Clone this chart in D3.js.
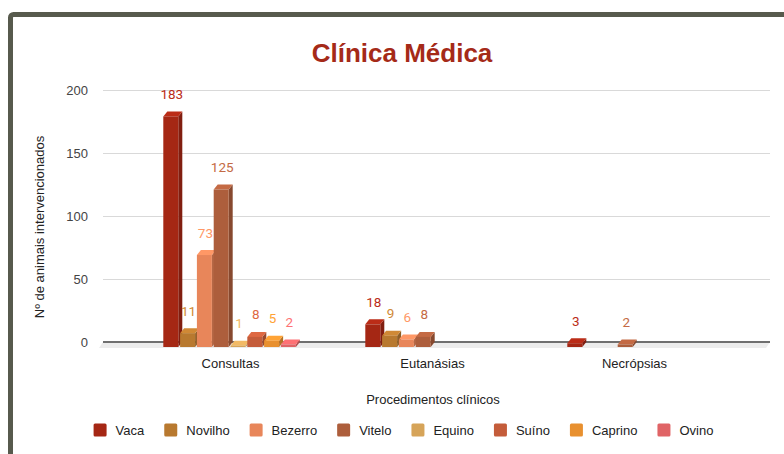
<!DOCTYPE html>
<html>
<head>
<meta charset="utf-8">
<script src="https://cdn.jsdelivr.net/npm/d3@7"></script>
<style>
  html, body { margin: 0; padding: 0; background: #fff; }
  svg { display: block; }
</style>
</head>
<body>
<svg id="chart" width="784" height="454"></svg>
<script>
// Procedures and animal groups
const categories = ["Consultas", "Eutanásias", "Necrópsias"];
const seriesNames = ["Vaca", "Novilho", "Bezerro", "Vitelo", "Equino", "Suíno", "Caprino", "Ovino"];
const seriesColors = ["#a52714", "#b8792f", "#e8865a", "#ad5e3c", "#d6a459", "#c45c3a", "#e8902f", "#e06466"];
// counts per series, one entry per category
const vaca    = [183, 18, 3];
const novilho = [11, 9, 0];
const bezerro = [73, 6, 0];
const vitelo  = [125, 8, 2];
const equino  = [1, 0, 0];
const suino   = [8, 0, 0];
const caprino = [5, 0, 0];
const ovino   = [2, 0, 0];
const yTicks = [0, 50, 100, 150, 200];

const seriesValues = [vaca, novilho, bezerro, vitelo, equino, suino, caprino, ovino];

const svg = d3.select("#chart");
const sans = "'Liberation Sans', Arial, sans-serif";

// Outer frame
svg.append("rect")
  .attr("x", 10.5).attr("y", 14.5)
  .attr("width", 820).attr("height", 500)
  .attr("rx", 3)
  .attr("fill", "#fff")
  .attr("stroke", "#575a4d")
  .attr("stroke-width", 5);

// Title
svg.append("text")
  .attr("x", 402).attr("y", 62)
  .attr("text-anchor", "middle")
  .attr("font-family", sans)
  .attr("font-weight", "bold")
  .attr("font-size", 26)
  .attr("fill", "#a52a18")
  .text("Clínica Médica");

// Plot geometry (back wall)
const wallLeft = 103, wallRight = 770;
const depthX = 4, depthY = 5;

const y = d3.scaleLinear().domain([0, 200]).range([342, 90]);
const x0 = d3.scaleBand().domain(categories).range([129.5, 735.5]).padding(0);
const groupWidth = 134.4;
const x1 = d3.scaleBand().domain(seriesNames)
  .range([0, groupWidth]).paddingInner(0);
const barW = 15;

// Gridlines
svg.append("g").selectAll("line")
  .data(yTicks.filter(t => t !== 0))
  .join("line")
  .attr("x1", wallLeft).attr("x2", wallRight)
  .attr("y1", d => Math.round(y(d)) + 0.5)
  .attr("y2", d => Math.round(y(d)) + 0.5)
  .attr("stroke", "#d9d9d9")
  .attr("stroke-width", 1);

// Floor
const y0 = y(0);
svg.append("path")
  .attr("d", `M${wallLeft},${y0} L${wallRight},${y0} L${wallRight - depthX},${y0 + depthY + 1} L${wallLeft - depthX},${y0 + depthY + 1} Z`)
  .attr("fill", "#ececec");
svg.append("line")
  .attr("x1", wallLeft).attr("x2", wallRight)
  .attr("y1", y0).attr("y2", y0)
  .attr("stroke", "#6f6f6f")
  .attr("stroke-width", 2);

// Y axis tick labels
const yAxis = d3.axisLeft(y).tickValues(yTicks).tickSize(0).tickPadding(0);
const yg = svg.append("g").attr("transform", `translate(88,0)`).call(yAxis);
yg.select(".domain").remove();
yg.selectAll("text")
  .attr("font-family", sans)
  .attr("font-size", 13)
  .attr("fill", "#444");

// Y axis title
svg.append("text")
  .attr("transform", "translate(44,227) rotate(-90)")
  .attr("text-anchor", "middle")
  .attr("font-family", sans)
  .attr("font-size", 13)
  .attr("fill", "#222")
  .text("Nº de animais intervencionados");

// Bars (3D columns)
const bars = [];
categories.forEach((c, ci) => {
  seriesNames.forEach((s, si) => {
    const v = seriesValues[si][ci];
    if (v > 0) bars.push({ c, s, si, v });
  });
});

const gBars = svg.append("g");
bars.forEach(b => {
  const left = x0(b.c) + (x0.bandwidth() - groupWidth) / 2 + x1(b.s);
  const right = left + barW;
  const bottom = y0 + depthY;
  const top = y(b.v) + depthY;
  const base = d3.color(seriesColors[b.si]);
  const g = gBars.append("g");
  // side face
  g.append("path")
    .attr("d", `M${right},${top} L${right + depthX},${top - depthY} L${right + depthX},${bottom - depthY} L${right},${bottom} Z`)
    .attr("fill", base.darker(0.7));
  // top face
  g.append("path")
    .attr("d", `M${left},${top} L${right},${top} L${right + depthX},${top - depthY} L${left + depthX},${top - depthY} Z`)
    .attr("fill", base.brighter(0.35));
  // front face
  g.append("rect")
    .attr("x", left).attr("y", top)
    .attr("width", barW).attr("height", bottom - top)
    .attr("fill", base);
  // value label
  svg.append("text")
    .attr("x", left + barW / 2 + 1)
    .attr("y", y(b.v) - 12.5)
    .attr("text-anchor", "middle")
    .attr("font-family", "Roboto, sans-serif")
    .attr("font-size", 13.5)
    .attr("fill", base.brighter(0.35))
    .text(b.v);
});

// Category labels
const xAxis = d3.axisBottom(x0).tickSize(0).tickPadding(0);
const xg = svg.append("g").attr("transform", "translate(0,368)").call(xAxis);
xg.select(".domain").remove();
xg.selectAll("text")
  .attr("dy", 0)
  .attr("font-family", sans)
  .attr("font-size", 13)
  .attr("fill", "#222");

// X axis title
svg.append("text")
  .attr("x", 433).attr("y", 404)
  .attr("text-anchor", "middle")
  .attr("font-family", sans)
  .attr("font-size", 13)
  .attr("fill", "#222")
  .text("Procedimentos clínicos");

// Legend
const legend = svg.append("g");
const legendGap = 20;
let lx = 0;
seriesNames.forEach((s, i) => {
  const it = legend.append("g");
  it.append("rect")
    .attr("x", 0).attr("y", -6.5)
    .attr("width", 13).attr("height", 13)
    .attr("rx", 1.5)
    .attr("fill", seriesColors[i]);
  const t = it.append("text")
    .attr("x", 22).attr("y", 5)
    .attr("font-family", sans)
    .attr("font-size", 13)
    .attr("fill", "#222")
    .text(s);
  const w = t.node().getComputedTextLength();
  it.attr("transform", `translate(${lx},0)`);
  lx += 22 + w + legendGap;
});
const totalW = lx - legendGap;
legend.attr("transform", `translate(${403.5 - totalW / 2},430)`);
</script>
</body>
</html>
